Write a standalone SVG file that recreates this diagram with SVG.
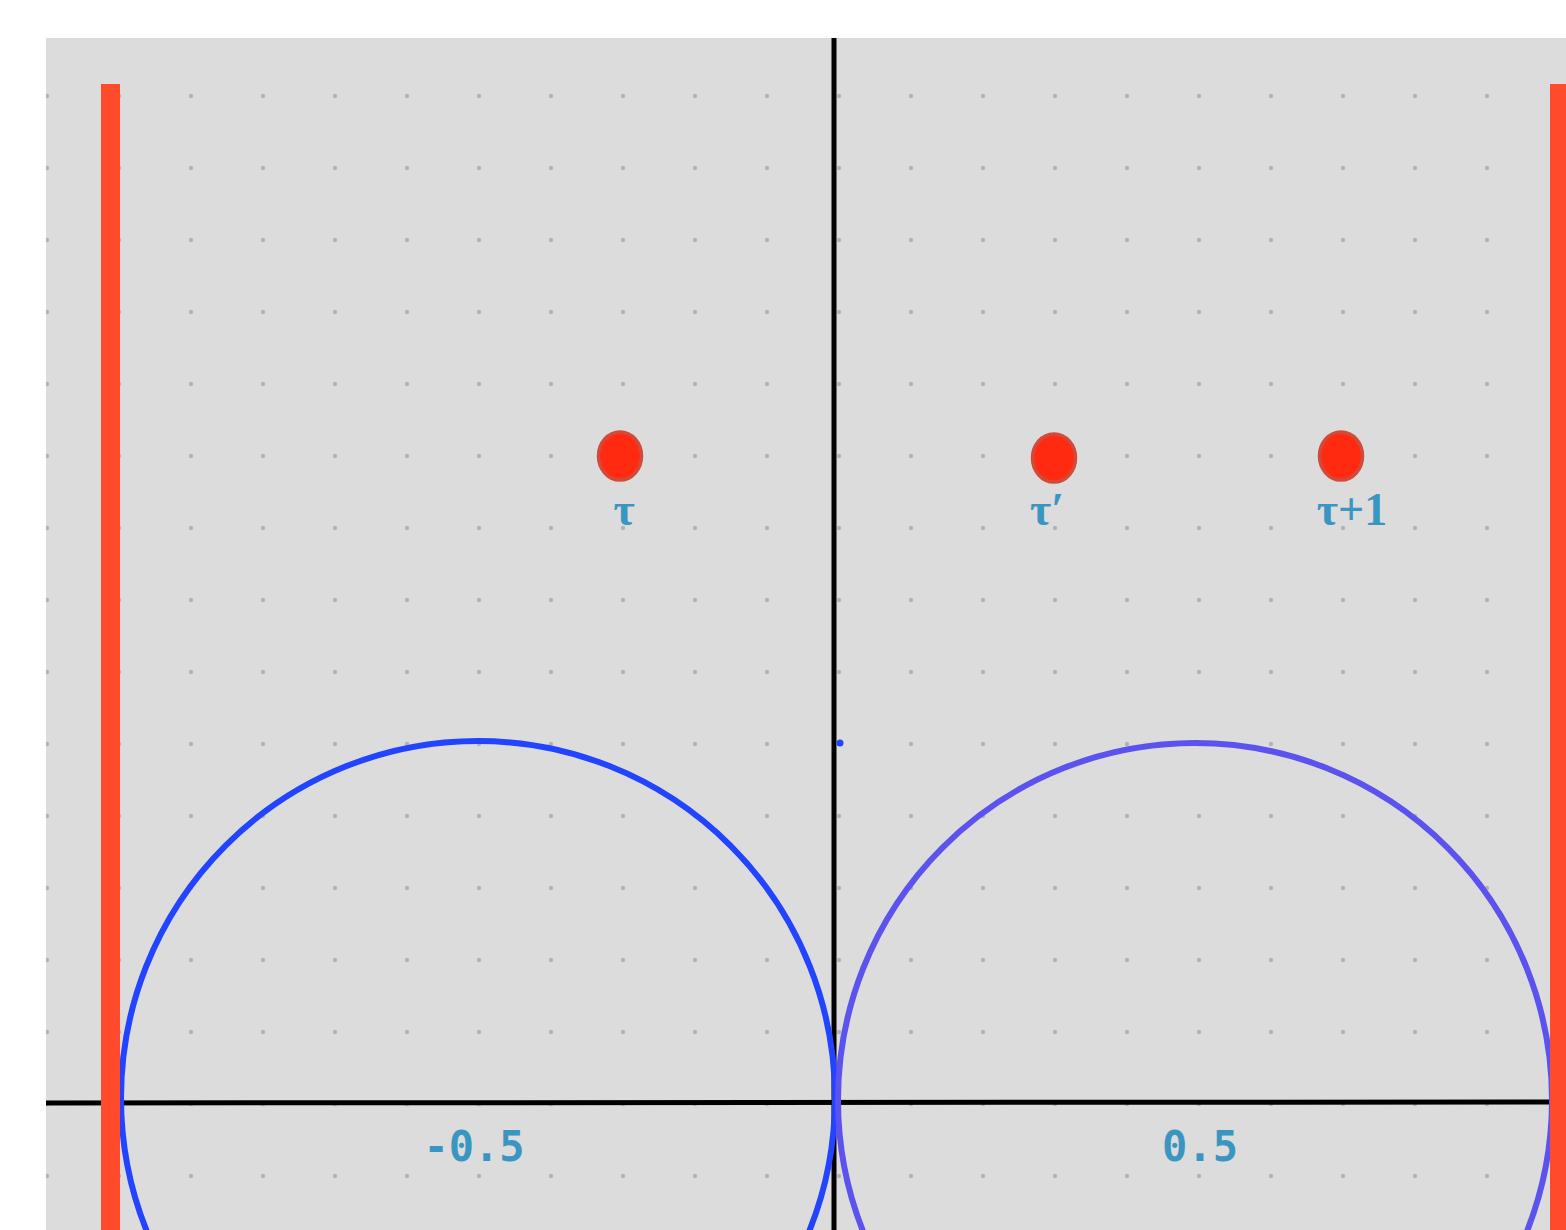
<svg xmlns="http://www.w3.org/2000/svg" width="1566" height="1230" viewBox="0 0 1566 1230">
<style>
.lbl{fill:#3a96c0;font-family:"Liberation Serif","DejaVu Serif",serif;font-size:46px;font-weight:bold;text-anchor:middle}
.num{fill:#3a96c0;font-family:"DejaVu Sans Mono","Liberation Mono",monospace;font-size:42px;font-weight:bold;text-anchor:middle}
.pt{fill:#ff2a10;stroke:#d24a3a;stroke-width:3.5}
.bar{fill:#ff4a2c}
.axis{stroke:#000;stroke-width:5}
</style>
<defs>
<pattern id="dots" patternUnits="userSpaceOnUse" x="11" y="60" width="72" height="72">
<circle cx="36" cy="36" r="2.2" fill="#b2b2b2"/>
</pattern>
<clipPath id="panel"><rect x="46" y="38" width="1520" height="1192"/></clipPath>
</defs>
<rect width="1566" height="1230" fill="#ffffff"/>
<g id="panel-bg">
<rect x="46" y="38" width="1520" height="1192" fill="#dcdcdc"/>
<rect x="44" y="38" width="1522" height="1192" fill="url(#dots)" clip-path="url(#panel)"/>
</g>
<g id="axes">
<line class="axis" x1="834" y1="38" x2="834" y2="1230"/>
<line class="axis" x1="46" y1="1103" x2="1566" y2="1102"/>
</g>
<g id="circles" fill="none" stroke-width="6" clip-path="url(#panel)">
<circle cx="478" cy="1098" r="357" stroke="#2244ff"/>
<circle cx="1195" cy="1100" r="357" stroke="#5c52ee"/>
</g>
<circle id="origin-dot" cx="840" cy="743" r="3.5" fill="#2244ff"/>
<g id="bars">
<rect class="bar" x="101" y="84" width="19" height="1146"/>
<rect class="bar" x="1550" y="84" width="16" height="1146"/>
</g>
<g id="tau">
<ellipse class="pt" cx="620" cy="456" rx="21.5" ry="24"/>
<text class="lbl" x="624" y="525">τ</text>
</g>
<g id="tau-prime">
<ellipse class="pt" cx="1054" cy="458" rx="21.5" ry="24"/>
<text class="lbl" x="1047" y="525">τ′</text>
</g>
<g id="tau-plus-1">
<ellipse class="pt" cx="1341" cy="456" rx="21.5" ry="24"/>
<text class="lbl" x="1352" y="525">τ+1</text>
</g>
<g id="ticks">
<text class="num" x="474" y="1161">-0.5</text>
<text class="num" x="1200" y="1161">0.5</text>
</g>
</svg>
